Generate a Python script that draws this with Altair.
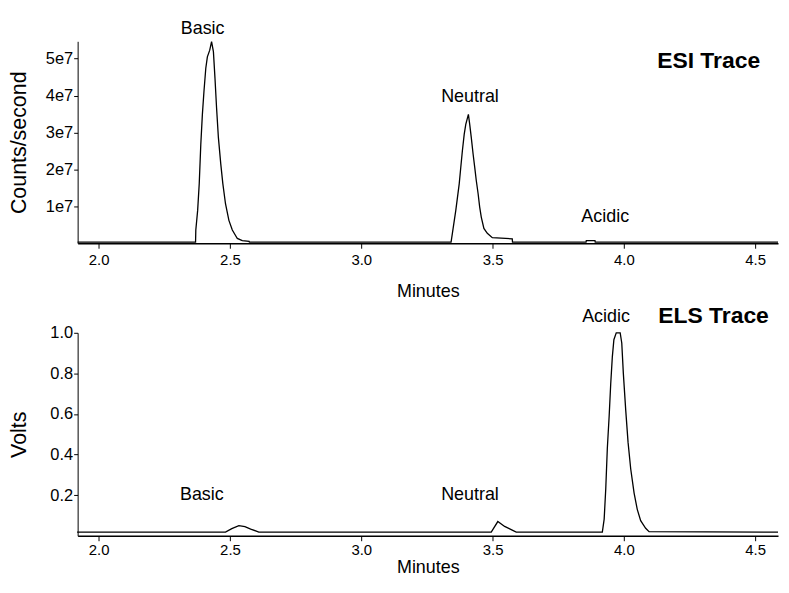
import altair as alt
import pandas as pd

FONT = "Liberation Sans"

# ---- data ----
x_ticks = [2.0, 2.5, 3.0, 3.5, 4.0, 4.5]
x_domain = [1.92, 4.587]

# ESI trace (counts/second, in units of 1e7)
esi_minutes = [1.920, 2.369, 2.370, 2.377, 2.383, 2.389, 2.395, 2.401, 2.408, 2.414,
               2.423, 2.430, 2.437, 2.443, 2.449, 2.456, 2.465, 2.473, 2.483, 2.496,
               2.509, 2.528, 2.547, 2.573, 2.574, 3.342, 3.347, 3.360, 3.373, 3.379,
               3.385, 3.392, 3.398, 3.408, 3.413, 3.419, 3.426, 3.432, 3.438, 3.445,
               3.451, 3.457, 3.467, 3.480, 3.499, 3.575, 3.576, 3.856, 3.857, 3.890,
               3.891, 4.587]
esi_counts_e7 = [0.03, 0.03, 0.36, 0.89, 1.61, 2.68, 3.49, 4.11, 4.74, 5.05,
                 5.23, 5.46, 5.19, 4.47, 3.67, 2.86, 2.15, 1.61, 1.07, 0.62,
                 0.36, 0.13, 0.07, 0.05, 0.03, 0.03, 0.27, 0.89, 1.61, 2.06,
                 2.50, 2.95, 3.22, 3.49, 3.22, 2.86, 2.41, 2.06, 1.70, 1.34,
                 0.98, 0.71, 0.40, 0.27, 0.15, 0.12, 0.03, 0.03, 0.07, 0.07,
                 0.03, 0.03]
esi_y_ticks_e7 = [1, 2, 3, 4, 5]
esi_y_max_e7 = 5.47

# ELS trace (volts)
els_minutes = [1.918, 2.483, 2.507, 2.534, 2.557, 2.579, 2.610, 3.495, 3.520, 3.546,
               3.571, 3.590, 3.918, 3.925, 3.931, 3.937, 3.944, 3.950, 3.956, 3.962,
               3.971, 3.986, 3.992, 3.998, 4.007, 4.016, 4.026, 4.039, 4.051, 4.064,
               4.083, 4.096, 4.587]
els_volts = [0.018, 0.018, 0.035, 0.05, 0.045, 0.033, 0.018, 0.018, 0.07, 0.046,
             0.03, 0.018, 0.018, 0.082, 0.23, 0.43, 0.59, 0.75, 0.88, 0.966,
             1.0, 1.0, 0.95, 0.80, 0.62, 0.46, 0.33, 0.21, 0.13, 0.074,
             0.037, 0.02, 0.018]
els_y_ticks = [0.2, 0.4, 0.6, 0.8, 1.0]
els_y_max = 1.0

# peak annotations
peak_names = ["Basic", "Neutral", "Acidic"]
esi_label_minutes = [2.396, 3.414, 3.929]
esi_label_counts_e7 = [5.67, 3.82, 0.57]
els_label_minutes = [2.393, 3.414, 3.932]
els_label_volts = [0.175, 0.177, 1.052]

esi_title, esi_title_minutes, esi_title_counts_e7 = "ESI Trace", 4.519, 4.76
els_title, els_title_minutes, els_title_volts = "ELS Trace", 4.552, 1.05

# ---- build tables ----
esi_df = pd.DataFrame({"minutes": esi_minutes, "value": [v * 1e7 for v in esi_counts_e7]})
els_df = pd.DataFrame({"minutes": els_minutes, "value": els_volts})
esi_lab = pd.DataFrame({"minutes": esi_label_minutes,
                        "value": [v * 1e7 for v in esi_label_counts_e7],
                        "label": peak_names})
els_lab = pd.DataFrame({"minutes": els_label_minutes, "value": els_label_volts,
                        "label": peak_names})
esi_tt = pd.DataFrame({"minutes": [esi_title_minutes], "value": [esi_title_counts_e7 * 1e7],
                       "label": [esi_title]})
els_tt = pd.DataFrame({"minutes": [els_title_minutes], "value": [els_title_volts],
                       "label": [els_title]})


def x_enc(title_pad, label_pad):
    return alt.X(
        "minutes:Q",
        scale=alt.Scale(domain=x_domain, nice=False, zero=False),
        axis=alt.Axis(
            values=x_ticks, format=".1f", title="Minutes", grid=False,
            tickSize=5, tickColor="black", tickWidth=1,
            domainColor="black", domainWidth=1.5,
            labelFont=FONT, labelFontSize=15, labelColor="black", labelPadding=label_pad,
            titleFont=FONT, titleFontSize=18, titleFontWeight="normal",
            titleColor="black", titlePadding=title_pad,
        ),
    )


def y_enc(domain, ticks, title, label_expr=None, fmt=None):
    ax = dict(
        values=ticks, title=title, grid=False,
        tickSize=4, tickColor="black", tickWidth=1,
        domainColor="black", domainWidth=1,
        labelFont=FONT, labelFontSize=16.5, labelColor="black", labelPadding=1,
        titleFont=FONT, titleFontSize=21.5, titleFontWeight="normal",
        titleColor="black", titlePadding=9, minExtent=38, maxExtent=38,
    )
    if label_expr:
        ax["labelExpr"] = label_expr
    if fmt:
        ax["format"] = fmt
    return alt.Y("value:Q", scale=alt.Scale(domain=domain, nice=False, zero=True),
                 axis=alt.Axis(**ax))


def panel(df, lab, tt, domain, ticks, title, height, title_pad, label_pad,
          label_expr=None, fmt=None):
    line = alt.Chart(df).mark_line(color="black", strokeWidth=1.3).encode(
        x=x_enc(title_pad, label_pad), y=y_enc(domain, ticks, title, label_expr, fmt))
    peaks = alt.Chart(lab).mark_text(
        font=FONT, fontSize=18, color="black", align="center", baseline="alphabetic"
    ).encode(x="minutes:Q", y="value:Q", text="label:N")
    head = alt.Chart(tt).mark_text(
        font=FONT, fontSize=23, fontWeight="bold", color="black",
        align="right", baseline="alphabetic"
    ).encode(x="minutes:Q", y="value:Q", text="label:N")
    return alt.layer(line, peaks, head).properties(width=704, height=height)


top = panel(esi_df, esi_lab, esi_tt, [0, esi_y_max_e7 * 1e7],
            [t * 1e7 for t in esi_y_ticks_e7], "Counts/second", 203, 16, 4,
            label_expr="format(datum.value / 1e7, 'd') + 'e7'")
bottom = panel(els_df, els_lab, els_tt, [0, els_y_max], els_y_ticks, "Volts", 204, 1, 2,
               fmt=".1f")

chart = alt.vconcat(top, bottom, spacing=3).properties(
    padding={"left": 1, "top": 10, "right": 0, "bottom": 0}
).configure(background="white").configure_view(stroke=None)

chart.save("out.html", embed_options={"renderer": "svg", "actions": False})
